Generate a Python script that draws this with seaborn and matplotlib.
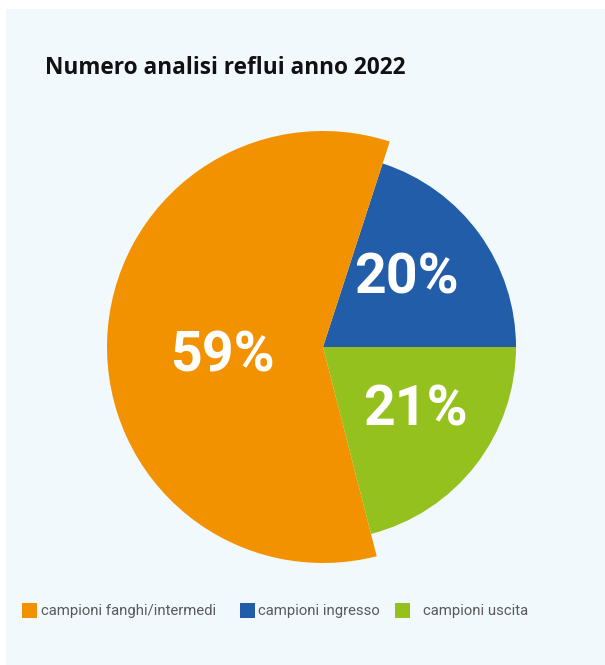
import matplotlib
matplotlib.use("Agg")
import matplotlib.pyplot as plt
import seaborn as sns

# Data
categories = ["campioni ingresso", "campioni fanghi/intermedi", "campioni uscita"]
shares = [20, 59, 21]
label_text = ["20%", "59%", "21%"]
legend_order = ["campioni fanghi/intermedi", "campioni ingresso", "campioni uscita"]
title = "Numero analisi reflui anno 2022"

sns.set_theme(style="white")
plt.rcParams["font.family"] = ["Open Sans", "DejaVu Sans"]

palette = dict(zip(categories, sns.color_palette(["#215DA8", "#F39200", "#95C11F"])))
bg = "#F2F9FD"

W, H = 605, 665
fig = plt.figure(figsize=(W / 100, H / 100), dpi=100)
fig.patch.set_facecolor("white")
# light panel behind everything
fig.patches.append(plt.Rectangle((6 / W, 0), 1, 1 - 9 / H, transform=fig.transFigure,
                                 facecolor=bg, edgecolor="none", zorder=-1))

# pie axes: unit radius = 193 px, centred at (323, 347) px
cx, cy, r_px, half = 323, 347, 193, 250
ax = fig.add_axes([(cx - half) / W, (H - cy - half) / H, 2 * half / W, 2 * half / H])
ax.set_facecolor("none")
wedges, _ = ax.pie(shares, colors=[palette[c] for c in categories], startangle=0,
                   counterclock=True, radius=1.0,
                   wedgeprops=dict(linewidth=0, antialiased=True))
# the largest slice stands out with a wider radius
wedges[1].set_radius(216 / 193)
lim = half / r_px
ax.set_xlim(-lim, lim)
ax.set_ylim(-lim, lim)
ax.set_aspect("equal")
ax.axis("off")

narrow = ["Roboto", "DejaVu Sans"]

# percentage labels
pos = {"20%": (406, 278), "59%": (222, 356), "21%": (415, 411)}
for t in label_text:
    x, y = pos[t]
    fig.text(x / W, 1 - y / H, t, ha="center", va="center", color="white",
             fontsize=40, fontweight="bold", family=narrow)

# title
fig.text(45 / W, 1 - 68 / H, title, ha="left", va="center", fontsize=16.3,
         fontweight="bold", color="#111111")

# legend
leg_items = [(22, 41), (240, 258), (395, 423)]
for name, (sx, tx) in zip(legend_order, leg_items):
    fig.patches.append(plt.Rectangle((sx / W, 1 - 618 / H), 15 / W, 15 / H,
                                     transform=fig.transFigure,
                                     facecolor=palette[name], edgecolor="none"))
    fig.text(tx / W, 1 - 611 / H, name, ha="left", va="center", fontsize=10.7,
             color="#5a5a5a", family=narrow)

fig.savefig("out.png", dpi=100, facecolor=fig.get_facecolor())
